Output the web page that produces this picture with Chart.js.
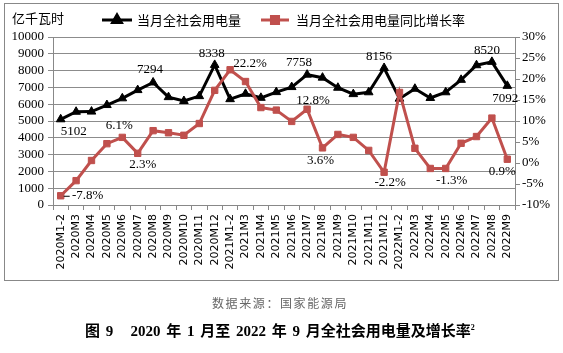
<!DOCTYPE html>
<html>
<head>
<meta charset="utf-8">
<script src="https://cdn.jsdelivr.net/npm/chart.js@4"></script>
<style>
    body { margin: 0; background: #fff; }
    #wrap { position: relative; width: 563px; height: 353px; }
    #frame { position: absolute; left: 4px; top: 3px; width: 553px; height: 276px; border: 1px solid #888; }
    #unit { position: absolute; left: 12px; top: 8px; font: 13px "Noto Sans CJK SC"; color: #000; }
    #source { position: absolute; left: 280px; top: 294px; transform: translateX(-50%); font: 12px "Noto Sans CJK SC"; letter-spacing: 1.6px; color: #666; white-space: nowrap; }
    #caption { position: absolute; left: 85px; top: 319px; font: bold 15px "Liberation Serif", "Noto Sans CJK SC"; word-spacing: 2px; white-space: pre; color: #000; }
    #caption sup { font-size: 8px; }
</style>
</head>
<body>
<div id="wrap">
    <canvas id="myChart" width="563" height="353"></canvas>
    <div id="frame"></div>
    <div id="unit">亿千瓦时</div>
    <div id="source">数据来源：国家能源局</div>
    <div id="caption">图 9   2020 年 1 月至 2022 年 9 月全社会用电量及增长率<sup>2</sup></div>
</div>
<script>
// данные
const months = ['2020M1-2', '2020M3', '2020M4', '2020M5', '2020M6', '2020M7', '2020M8', '2020M9', '2020M10', '2020M11', '2020M12',
    '2021M1-2', '2021M3', '2021M4', '2021M5', '2021M6', '2021M7', '2021M8', '2021M9', '2021M10', '2021M11', '2021M12',
    '2022M1-2', '2022M3', '2022M4', '2022M5', '2022M6', '2022M7', '2022M8', '2022M9'];
const power = [5102, 5550, 5560, 5950, 6350, 6840, 7294, 6420, 6190, 6480, 8338,
    6300, 6620, 6380, 6720, 7020, 7758, 7580, 6980, 6600, 6710, 8156,
    6330, 6920, 6370, 6710, 7450, 8320, 8520, 7092];
const growth = [-7.8, -4.2, 0.6, 4.6, 6.1, 2.3, 7.7, 7.2, 6.6, 9.4, 17.3,
    22.2, 19.4, 13.2, 12.6, 9.9, 12.8, 3.6, 6.8, 6.1, 3.0, -2.2,
    16.8, 3.5, -1.3, -1.3, 4.7, 6.3, 10.7, 0.9];
const seriesNames = ['当月全社会用电量', '当月全社会用电量同比增长率'];
const leftTicks = [0, 1000, 2000, 3000, 4000, 5000, 6000, 7000, 8000, 9000, 10000];
const rightTicks = [-10, -5, 0, 5, 10, 15, 20, 25, 30];

const RED = '#C0504D';
const serif = '"Liberation Serif", "Times New Roman", serif';

// подписи значений: [index, dx, dy]
const powerLabels = [[0, 13, 12], [6, -3, -13], [10, -3, -11], [16, -8, -12], [21, -5, -11], [28, -5, -11], [29, -2, 13]];
const growthLabels = [[0, 27, 0], [4, -3, -12], [5, 5, 11], [11, 20, -6], [16, 6, -9], [17, -2, 13], [21, 6, 10], [25, 6, 12], [29, -5, 12]];

const labelPlugin = {
    id: 'labels',
    afterDatasetsDraw(chart) {
        const c = chart.ctx;
        c.save();
        c.font = '13px ' + serif;
        c.fillStyle = '#000';
        c.textAlign = 'center';
        c.textBaseline = 'middle';
        const m0 = chart.getDatasetMeta(0);
        powerLabels.forEach(function (l) {
            const p = m0.data[l[0]];
            c.fillText(String(power[l[0]]), p.x + l[1], p.y + l[2]);
        });
        const m1 = chart.getDatasetMeta(1);
        growthLabels.forEach(function (l) {
            const p = m1.data[l[0]];
            c.fillText(growth[l[0]].toFixed(1) + '%', p.x + l[1], p.y + l[2]);
        });
        // маленькая выноска у -7.8%
        const p0 = m1.data[0];
        c.strokeStyle = '#000';
        c.lineWidth = 1;
        c.beginPath();
        c.moveTo(p0.x + 3, p0.y + 0.5);
        c.lineTo(p0.x + 9, p0.y + 0.5);
        c.stroke();

        // легенда
        c.font = '13px "Noto Sans CJK SC"';
        c.textAlign = 'left';
        const items = [[102, 132, 137, '#000', 'triangle'], [261, 289, 296, RED, 'rect']];
        items.forEach(function (it, i) {
            c.strokeStyle = it[3];
            c.lineWidth = 3;
            c.beginPath();
            c.moveTo(it[0], 20);
            c.lineTo(it[1], 20);
            c.stroke();
            Chart.helpers.drawPoint(c, {pointStyle: it[4], radius: 5, borderWidth: 1, rotation: 0}, (it[0] + it[1]) / 2, 20);
            c.fillStyle = it[3];
            c.fill();
            c.fillStyle = '#000';
            c.fillText(seriesNames[i], it[2], 20);
        });
        c.restore();
    }
};

const ctx = document.getElementById('myChart');
let chart = new Chart(ctx, {
    type: 'line',
    data: {
        labels: months,
        datasets: [{
            label: seriesNames[0],
            data: power,
            yAxisID: 'y',
            borderColor: '#000',
            backgroundColor: '#000',
            borderWidth: 3,
            pointStyle: 'triangle',
            pointRadius: 5,
            pointBorderWidth: 1,
            order: 1
        }, {
            label: seriesNames[1],
            data: growth,
            yAxisID: 'y2',
            borderColor: RED,
            backgroundColor: RED,
            borderWidth: 3,
            pointStyle: 'rect',
            pointRadius: 4.5,
            pointBorderWidth: 1,
            order: 0
        }]
    },
    options: {
        responsive: false,
        animation: false,
        layout: {padding: {left: 0, right: 0, top: 37, bottom: 73}},
        plugins: {legend: {display: false}, tooltip: {enabled: false}},
        scales: {
            x: {
                offset: true,
                grid: {offset: true, drawOnChartArea: false, tickLength: 5, color: '#888'},
                border: {color: '#888'},
                ticks: {minRotation: 90, maxRotation: 90, autoSkip: false, padding: 4, color: '#000', font: {family: 'DejaVu Sans', size: 11}},
                afterFit: function (s) { s.height = 75; }
            },
            y: {
                position: 'left',
                min: 0, max: 10000,
                afterBuildTicks: function (s) { s.ticks = leftTicks.map(v => ({value: v})); },
                grid: {color: '#8c8c8c', tickLength: 5},
                border: {color: '#888'},
                ticks: {autoSkip: false, padding: 4, color: '#000', font: {family: serif, size: 13}, callback: v => String(v)},
                afterFit: function (s) { s.width = 53; }
            },
            y2: {
                position: 'right',
                min: -10, max: 30,
                afterBuildTicks: function (s) { s.ticks = rightTicks.map(v => ({value: v})); },
                grid: {drawOnChartArea: false, tickLength: 5, color: '#888'},
                border: {color: '#888'},
                ticks: {autoSkip: false, padding: 2, color: '#000', font: {family: serif, size: 13}, callback: v => v + '%'},
                afterFit: function (s) { s.width = 48; }
            }
        }
    },
    plugins: [labelPlugin]
});
</script>
</body>
</html>
